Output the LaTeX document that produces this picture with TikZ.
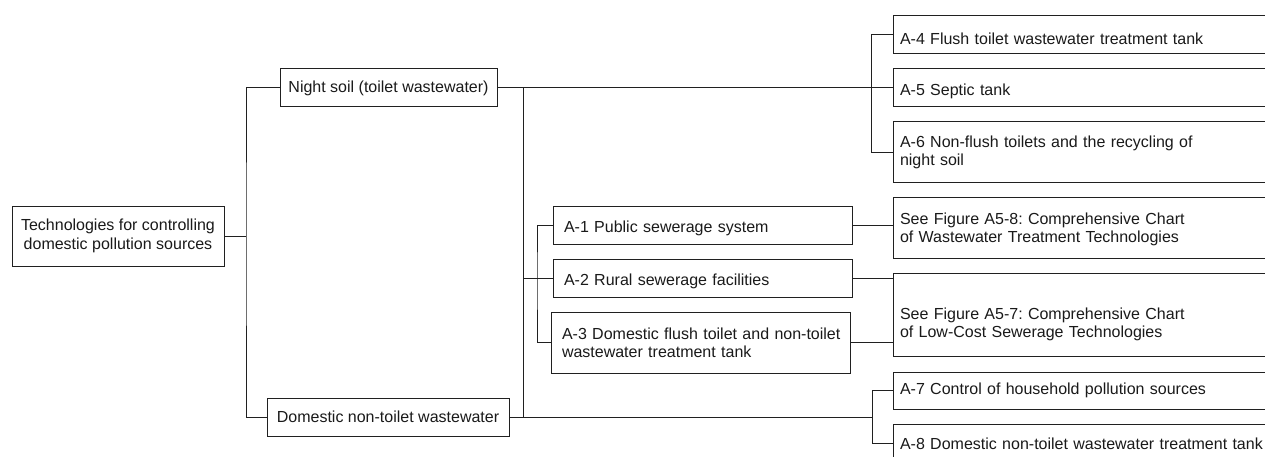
\documentclass[tikz,border=0pt]{standalone}
\usepackage{fontspec}
\setmainfont{Liberation Sans}
\frenchspacing
\newcommand{\diagfont}{\fontsize{16pt}{18.3pt}\selectfont}
\definecolor{inkc}{HTML}{1A1A1A}
\definecolor{wirec}{HTML}{202020}
\begin{document}
\begin{tikzpicture}[x=1pt,y=-1pt,
  box/.style={draw=wirec, line width=1pt, fill=white, font=\diagfont, text=inkc,
    inner ysep=0pt, anchor=center},
  cbox/.style={box, align=center, inner xsep=0pt},
  lbox/.style={box, align=left},
  wire/.style={draw=wirec, line width=1pt},
  % one-line labels in the two right-hand columns sit a little low in their boxes
  lowtext/.style={text height=#1},
  lowtext/.default=18.5pt,
  % right-hand column boxes run past the right edge
  rbox/.style={lbox, minimum width=397pt, text width=383pt, inner xsep=7pt},
  mbox/.style={lbox, minimum width=299pt, text width=277pt, inner xsep=11pt}]
\useasboundingbox (0,0) rectangle (1265,457);
\clip (0,0) rectangle (1265,457);

% level 0 and level 1
\node[cbox, minimum width=212pt, minimum height=60pt] (root) at (118,236)
  {Technologies for controlling\\domestic pollution sources};
\node[cbox, minimum width=217pt, minimum height=38pt] (night) at (388.5,88)
  {Night soil (toilet wastewater)};
\node[cbox, minimum width=242pt, minimum height=38pt] (dom) at (388,417)
  {Domestic non-toilet wastewater};

% shared facilities
\node[mbox, lowtext, minimum height=38pt] (a1) at (702.5,225) {A-1 Public sewerage system};
\node[mbox, lowtext, minimum height=38pt] (a2) at (702.5,278) {A-2 Rural sewerage facilities};
\node[mbox, minimum height=61pt] (a3) at (700.5,342.5)
  {\mbox{A-3 Domestic flush toilet and non-toilet}\\wastewater treatment tank};

% right-hand column
\node[rbox, lowtext, minimum height=38pt] (a4) at (1091.5,35) {A-4 Flush toilet wastewater treatment tank};
\node[rbox, lowtext, minimum height=38pt] (a5) at (1091.5,88) {A-5 Septic tank};
\node[rbox, minimum height=61pt] (a6) at (1091.5,152.5)
  {A-6 Non-flush toilets and the recycling of\\night soil};
\node[rbox, lowtext=15.5pt, minimum height=61pt] (s8) at (1091.5,227.5)
  {See Figure A5-8: Comprehensive Chart\\of Wastewater Treatment Technologies};
\node[rbox, lowtext=31pt, minimum height=83pt] (s7) at (1091.5,314.5)
  {See Figure A5-7: Comprehensive Chart\\of Low-Cost Sewerage Technologies};
\node[rbox, minimum height=37pt] (a7) at (1091.5,390.5) {A-7 Control of household pollution sources};
\node[rbox, lowtext=13.5pt, minimum height=38pt] (a8) at (1091.5,443) {A-8 Domestic non-toilet wastewater treatment tank};

% junction points of the buses
\coordinate (j1) at (246,236);
\coordinate (j2) at (523,278);
\coordinate (j3) at (871,88);
\coordinate (j4) at (872,417);
\coordinate (j5) at (537,278);

% connectors
\draw[wire] (root.east) -- (j1);
\draw[wire] (night.west) -| (j1) |- (dom.west);
\draw[wire] (night.east) -- (a5.west);
\draw[wire] (a4.west) -| (j3) |- (a6.west);
\draw[wire] (j2 |- night.east) -- (j2 |- dom.east);
\draw[wire] (dom.east) -- (j4);
\draw[wire] (a7.west) -| (j4) |- (a8.west);
\draw[wire] (j2) -- (a2.west);
\draw[wire] (a1.west) -| (j5) |- (a3.west);
\draw[wire] (a1.east) -- (s8.west |- a1.east);
\draw[wire] (a2.east) -- (s7.west |- a2.east);
\draw[wire] (a3.east) -- (s7.west |- a3.east);
\end{tikzpicture}
\end{document}
